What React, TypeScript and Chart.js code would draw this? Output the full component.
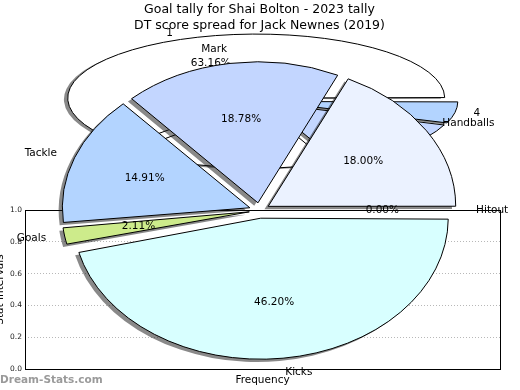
import React, { useEffect, useRef } from 'react';
import { Chart, registerables } from 'chart.js';

Chart.register(...registerables);

const FONT = '"DejaVu Sans", sans-serif';

const titleLines = ['Goal tally for Shai Bolton - 2023 tally', 'DT score spread for Jack Newnes (2019)'];
const watermark = 'Dream-Stats.com';
const xAxisTitle = 'Frequency';
const yAxisTitle = 'Stat Intervals';
const yTickValues = [0, 0.2, 0.4, 0.6, 0.8, 1.0];

// front pie: DT score spread
const dtCategories = ['Kicks', 'Goals', 'Tackle', 'Mark', 'Handballs', 'Hitout'];
const dtShares = [46.2, 2.11, 14.91, 18.78, 18.0, 0.0];
const dtColors = ['#d8ffff', '#cdeb8b', '#b3d4ff', '#c3d6ff', '#ebf2ff', '#ffffff'];

// back pie: goal tally
const tallyLabels = ['4', '', '', '1'];
const tallyShares = [5.5, 13.3, 18.04, 63.16];
const tallyColors = ['#b3d4ff', '#c3d6ff', '#ffffff', '#ffffff'];

type PieCfg = {
  R: number;
  sy: number;
  sdx: number;
  sdy: number;
  labels: string[];
  values: number[];
  pctFor: (i: number) => boolean;
  fontSize: number;
};

function makePiePlugin(cfg: PieCfg) {
  return {
    id: 'ellipsePie',
    beforeDatasetsDraw(chart: any) {
      const meta = chart.getDatasetMeta(0);
      const arcs = meta.data as any[];
      if (!arcs.length) return;
      arcs.forEach((arc) => {
        const off = (arc.options.offset || 0) / 4;
        const fix = 1 - Math.sin(Math.min(Math.PI, arc.circumference || 0));
        arc.outerRadius = cfg.R - off * fix;
      });
      const cx = arcs[0].x;
      const cy = arcs[0].y;
      const ctx = chart.ctx as any;
      ctx.save();
      ctx.translate(cx, cy);
      ctx.scale(1, cfg.sy);
      ctx.translate(-cx, -cy);
      ctx.shadowColor = 'rgba(20,20,20,0.5)';
      ctx.shadowBlur = 0;
      ctx.shadowOffsetX = cfg.sdx;
      ctx.shadowOffsetY = cfg.sdy;
      const proto = CanvasRenderingContext2D.prototype.stroke;
      ctx.stroke = function (...a: any[]) {
        this.save();
        this.setTransform(1, 0, 0, 1, 0, 0);
        this.shadowColor = 'rgba(0,0,0,0)';
        proto.apply(this, a);
        this.restore();
      };
    },
    afterDatasetsDraw(chart: any) {
      const ctx = chart.ctx as any;
      delete ctx.stroke;
      ctx.restore();
      const meta = chart.getDatasetMeta(0);
      const arcs = meta.data as any[];
      ctx.save();
      ctx.font = `${cfg.fontSize}px ${FONT}`;
      ctx.fillStyle = '#000';
      ctx.textBaseline = 'middle';
      arcs.forEach((arc, i) => {
        const t = (arc.options.offset || 0) / 4;
        const mid = (arc.startAngle + arc.endAngle) / 2;
        const c = Math.cos(mid);
        const s = Math.sin(mid);
        const pos = (k: number) => [arc.x + c * (t + k * cfg.R), arc.y + s * (t + k * cfg.R) * cfg.sy];
        if (cfg.labels[i]) {
          const [lx, ly] = pos(1.1);
          ctx.textAlign = c > 0 ? 'left' : 'right';
          ctx.fillText(cfg.labels[i], lx, ly);
        }
        if (cfg.pctFor(i)) {
          const [px, py] = pos(0.6);
          ctx.textAlign = 'center';
          ctx.fillText(cfg.values[i].toFixed(2) + '%', px, py);
        }
      });
      ctx.restore();
    },
  };
}

const axesDecor = {
  id: 'axesDecor',
  afterDraw(chart: any) {
    const ctx = chart.ctx;
    const a = chart.chartArea;
    ctx.save();
    ctx.strokeStyle = '#000';
    ctx.lineWidth = 1;
    ctx.strokeRect(Math.round(a.left) + 0.5, Math.round(a.top) + 0.5, Math.round(a.right - a.left), Math.round(a.bottom - a.top));
    ctx.fillStyle = '#000';
    ctx.textAlign = 'center';
    ctx.textBaseline = 'middle';
    ctx.font = `12.5px ${FONT}`;
    ctx.fillText(titleLines[0], 259.5, 10);
    ctx.fillText(titleLines[1], 259.5, 26);
    ctx.font = `bold 10.5px ${FONT}`;
    ctx.fillStyle = '#9a9a9a';
    ctx.textAlign = 'left';
    ctx.fillText(watermark, 0, 380);
    ctx.restore();
  },
};

export default function App() {
  const axesRef = useRef<HTMLCanvasElement>(null);
  const backRef = useRef<HTMLCanvasElement>(null);
  const frontRef = useRef<HTMLCanvasElement>(null);

  useEffect(() => {
    document.body.style.margin = '0';
    const charts: Chart[] = [];

    charts.push(
      new Chart(axesRef.current!, {
        type: 'scatter',
        data: { datasets: [{ data: [] }] },
        options: {
          animation: false,
          responsive: false,
          events: [],
          layout: { padding: { top: 210, right: 20, left: 0, bottom: 0 } },
          plugins: { legend: { display: false }, tooltip: { enabled: false } },
          scales: {
            x: {
              min: 0,
              max: 1,
              ticks: { display: false },
              grid: { display: false, drawTicks: false },
              border: { display: false },
              title: { display: true, text: xAxisTitle, color: '#000', font: { family: FONT, size: 10.5 }, padding: { top: 3, bottom: 3 } },
              afterFit(s: any) {
                s.height = 21;
              },
            },
            y: {
              min: 0,
              max: 1,
              afterBuildTicks(s: any) {
                s.ticks = yTickValues.map((v) => ({ value: v }));
              },
              ticks: {
                callback: (v: any) => Number(v).toFixed(1),
                color: '#222',
                font: { family: FONT, size: 7.5 },
                padding: 3,
              },
              grid: { color: '#b8b8b8', drawTicks: false, lineWidth: 1 },
              border: { display: false, dash: [1, 2] },
              title: { display: true, text: yAxisTitle, color: '#000', font: { family: FONT, size: 10.5 }, padding: { top: -6, bottom: 0 } },
              afterFit(s: any) {
                s.width = 25;
              },
            },
          },
        },
        plugins: [axesDecor],
      } as any)
    );

    const backR = 188.5;
    charts.push(
      new Chart(backRef.current!, {
        type: 'pie',
        data: {
          labels: tallyLabels,
          datasets: [
            {
              data: tallyShares,
              backgroundColor: tallyColors,
              borderColor: '#000',
              borderWidth: 1,
              borderJoinStyle: 'miter',
              offset: 4 * 0.05 * backR,
              radius: backR,
              clip: false,
            } as any,
          ],
        },
        options: {
          animation: false,
          responsive: false,
          events: [],
          rotation: 90,
          layout: { padding: { top: 0, bottom: 188, left: 0, right: 0 } },
          plugins: { legend: { display: false }, tooltip: { enabled: false } },
        } as any,
        plugins: [
          makePiePlugin({
            R: backR,
            sy: 64 / backR,
            sdx: -3.8,
            sdy: 1.3,
            labels: tallyLabels,
            values: tallyShares,
            pctFor: (i) => tallyLabels[i] !== '',
            fontSize: 10.5,
          }),
        ],
      } as any)
    );

    const frontR = 187.5;
    charts.push(
      new Chart(frontRef.current!, {
        type: 'pie',
        data: {
          labels: dtCategories,
          datasets: [
            {
              data: dtShares,
              backgroundColor: dtColors,
              borderColor: '#000',
              borderWidth: 1,
              borderJoinStyle: 'miter',
              offset: 4 * 0.055 * frontR,
              radius: frontR,
              clip: false,
            } as any,
          ],
        },
        options: {
          animation: false,
          responsive: false,
          events: [],
          rotation: 90,
          layout: { padding: { top: 31, bottom: 0, left: 0, right: 1 } },
          plugins: { legend: { display: false }, tooltip: { enabled: false } },
        } as any,
        plugins: [
          makePiePlugin({
            R: frontR,
            sy: 141 / frontR,
            sdx: -3.7,
            sdy: 2.8,
            labels: dtCategories,
            values: dtShares,
            pctFor: () => true,
            fontSize: 10.5,
          }),
        ],
      } as any)
    );

    return () => charts.forEach((c) => c.destroy());
  }, []);

  const cs: React.CSSProperties = { position: 'absolute', left: 0, top: 0 };
  return (
    <div style={{ position: 'relative', width: 520, height: 390, background: '#fff', overflow: 'hidden' }}>
      <canvas ref={axesRef} width={520} height={390} style={cs} />
      <canvas ref={backRef} width={520} height={390} style={cs} />
      <canvas ref={frontRef} width={520} height={390} style={cs} />
    </div>
  );
}
